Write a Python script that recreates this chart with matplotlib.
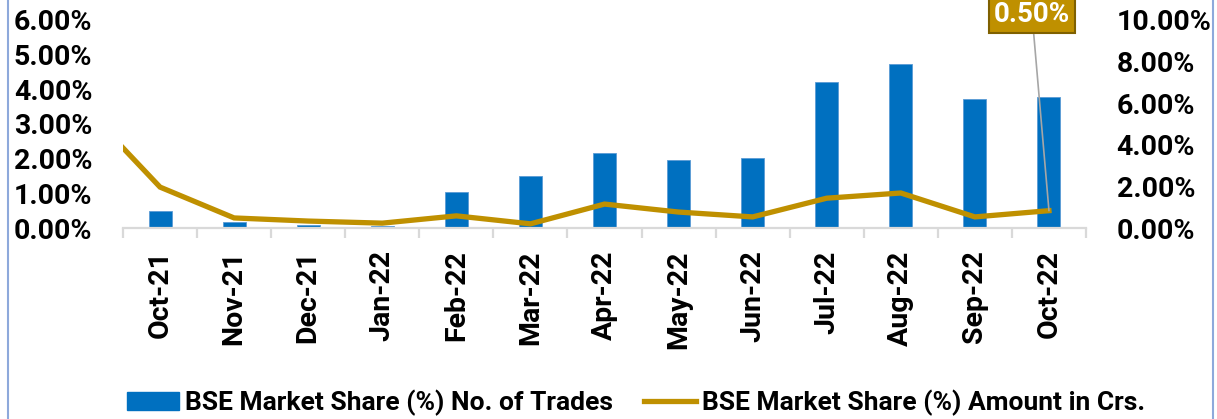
import matplotlib
matplotlib.use("Agg")
import matplotlib.pyplot as plt
from matplotlib.lines import Line2D
from matplotlib.patches import Patch
from matplotlib.ticker import FuncFormatter, MultipleLocator

months = ["Oct-21", "Nov-21", "Dec-21", "Jan-22", "Feb-22", "Mar-22", "Apr-22",
          "May-22", "Jun-22", "Jul-22", "Aug-22", "Sep-22", "Oct-22"]
# BSE market share (%) - number of trades (secondary / right axis)
trades_share = [0.82, 0.29, 0.14, 0.10, 1.73, 2.50, 3.61, 3.27, 3.37, 7.02, 7.88, 6.20, 6.30]
# BSE market share (%) - amount in Crs. (primary / left axis)
amount_share = [1.18, 0.29, 0.20, 0.14, 0.35, 0.12, 0.69, 0.46, 0.32, 0.86, 1.01, 0.32, 0.50]
# preceding month (Sep-21), only partly visible at the left edge
amount_prev = 3.44

BAR_C = "#0070C0"
LINE_C = "#BF9000"
FONT = "Roboto"

W, H = 1217, 419
fig = plt.figure(figsize=(W / 100, H / 100), dpi=100)
ax = fig.add_axes([123 / W, 1 - 228 / H, (1086 - 123) / W, (228 - 20) / H])
ax2 = ax.twinx()

x = list(range(len(months)))
ax2.bar(x, trades_share, width=0.31, color=BAR_C, edgecolor="#5B9BD5", linewidth=0.6)
ax.plot([-1] + x, [amount_prev] + amount_share, color=LINE_C, lw=3.8,
        solid_joinstyle="miter", zorder=5)

ax.set_zorder(ax2.get_zorder() + 1)
ax.patch.set_visible(False)

ax.set_xlim(-0.5, len(months) - 0.5)
ax.set_ylim(0, 6)
ax2.set_ylim(0, 10)
ax.yaxis.set_major_locator(MultipleLocator(1))
ax2.yaxis.set_major_locator(MultipleLocator(2))
pct = FuncFormatter(lambda v, p: f"{v:.2f}%")
ax.yaxis.set_major_formatter(pct)
ax2.yaxis.set_major_formatter(pct)

for a in (ax, ax2):
    for s in ("top", "left", "right", "bottom"):
        a.spines[s].set_visible(False)
ax.spines["bottom"].set_visible(True)
ax.spines["bottom"].set_color("#D9D9D9")
ax.spines["bottom"].set_linewidth(1.6)

TICK_FS = 20.5
ax.tick_params(axis="y", length=0, pad=22, labelsize=TICK_FS)
ax2.tick_params(axis="y", length=0, pad=22, labelsize=TICK_FS)
for lab in ax.get_yticklabels() + ax2.get_yticklabels():
    lab.set_fontweight("bold")
    lab.set_fontfamily(FONT)

ax.set_xticks(x)
ax.set_xticklabels(months, rotation=90, fontsize=TICK_FS, fontweight="bold", fontfamily=FONT)
ax.tick_params(axis="x", which="major", length=0, pad=16)
ax.set_xticks([i - 0.5 for i in range(len(months) + 1)], minor=True)
ax.tick_params(axis="x", which="minor", length=7, width=1.6, color="#D9D9D9", direction="out")

# data label for last point
ax.annotate(f"{amount_share[-1]:.2f}%", xy=(len(months) - 1, amount_share[-1]),
            xycoords="data", xytext=(1032, H - 14), textcoords="figure pixels",
            ha="center", va="center", color="white", fontsize=20, fontweight="bold",
            fontfamily=FONT,
            bbox=dict(boxstyle="square,pad=0.18", fc=LINE_C, ec="#7F6000", lw=1.5),
            arrowprops=dict(arrowstyle="-", color="#A6A6A6", lw=1.2, shrinkA=0, shrinkB=0),
            annotation_clip=False, zorder=10)

handles = [Patch(facecolor=BAR_C, edgecolor=BAR_C),
           Line2D([0], [0], color=LINE_C, lw=3.8)]
labels = ["BSE Market Share (%) No. of Trades", "BSE Market Share (%) Amount in Crs."]
fig.legend(handles, labels, loc="center", bbox_to_anchor=(636 / W, 1 - 403 / H),
           ncol=2, frameon=False, prop=dict(family=FONT, weight="bold", size=19),
           handlelength=1.97, handleheight=0.65, columnspacing=1.2, handletextpad=0.23,
           borderpad=0, borderaxespad=0)

# chart border (left and right edges visible)
fig.add_artist(Line2D([8 / W, 8 / W], [0, 1], color="#8EA9DB", lw=1.5))
fig.add_artist(Line2D([1213 / W, 1213 / W], [0, 1], color="#8EA9DB", lw=1.5))

fig.savefig("out.png", dpi=100)
